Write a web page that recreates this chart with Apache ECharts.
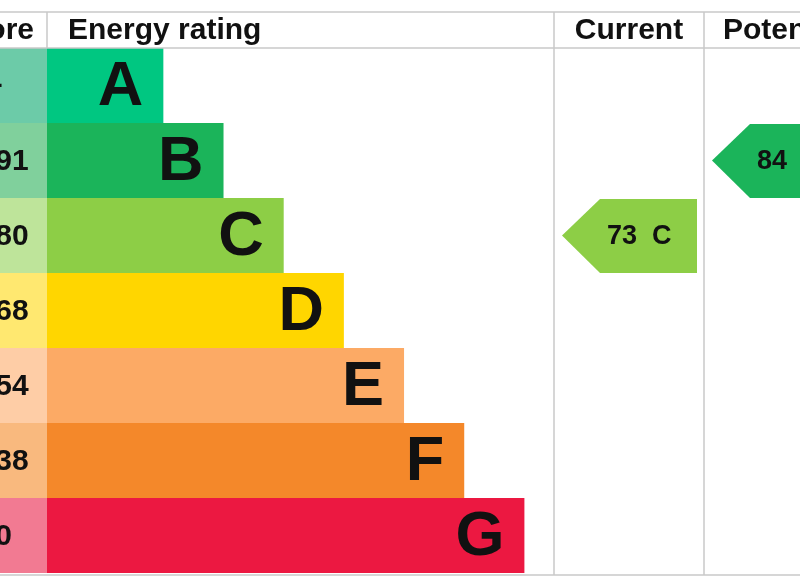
<!DOCTYPE html>
<html><head><meta charset="utf-8">
<script src="https://cdn.jsdelivr.net/npm/echarts@6/dist/echarts.min.js"></script>
<style>html,body{margin:0;padding:0;background:#fff}#c{width:800px;height:580px}</style>
</head><body><div id="c"></div>
<script>
// ---- data ----
const ratings = ['A', 'B', 'C', 'D', 'E', 'F', 'G'];
const scoreRanges = ['92+', '81-91', '69-80', '55-68', '39-54', '21-38', '1-20'];
const barLengths = [2, 3, 4, 5, 6, 7, 8];
const bandColors = ['#00c781', '#1bb45a', '#8dce46', '#ffd600', '#fcaa65', '#f4882a', '#ec1841'];
const scoreColors = ['#6ccba8', '#80d09c', '#bee49a', '#ffe870', '#fecda6', '#f9b97e', '#f27a92'];
const headers = ['Score', 'Energy rating', 'Current', 'Potential'];
const currentScore = 73, currentRating = 'C';
const potentialScore = 84, potentialRating = 'B';

// ---- layout (pixels) ----
const FONT = '"Liberation Sans", Arial, Helvetica, sans-serif';
const L = { scoreRight: 47, cols: [554, 704], colW: 150, top: 12, headBottom: 48, bottom: 575, line: '#c9c9c9' };

const chart = echarts.init(document.getElementById('c'));

const arrowData = [
  [currentScore, currentRating, 0],
  [potentialScore, potentialRating, 1]
];

const option = {
  animation: false,
  grid: { left: 43, right: 0, top: 48, bottom: 7 },
  xAxis: { type: 'value', min: 0, max: 12.58, show: false },
  yAxis: { type: 'category', data: ratings, inverse: true, show: false },
  graphic: [
    { type: 'line', shape: { x1: 0, y1: L.top, x2: 800, y2: L.top }, style: { stroke: L.line, lineWidth: 1.5 }, z: 10 },
    { type: 'line', shape: { x1: 0, y1: L.headBottom, x2: 800, y2: L.headBottom }, style: { stroke: L.line, lineWidth: 1.5 }, z: 10 },
    { type: 'line', shape: { x1: 0, y1: L.bottom, x2: 800, y2: L.bottom }, style: { stroke: L.line, lineWidth: 1.5 }, z: 10 },
    { type: 'line', shape: { x1: L.scoreRight, y1: L.top, x2: L.scoreRight, y2: L.headBottom }, style: { stroke: L.line, lineWidth: 1.5 }, z: 10 },
    { type: 'line', shape: { x1: L.cols[0], y1: L.top, x2: L.cols[0], y2: L.bottom }, style: { stroke: L.line, lineWidth: 1.5 }, z: 10 },
    { type: 'line', shape: { x1: L.cols[1], y1: L.top, x2: L.cols[1], y2: L.bottom }, style: { stroke: L.line, lineWidth: 1.5 }, z: 10 },
    { type: 'text', style: { text: headers[0], x: 34, y: 31, textAlign: 'right', textVerticalAlign: 'middle', font: 'bold 30px ' + FONT, fill: '#111' }, z: 10 },
    { type: 'text', style: { text: headers[1], x: 68, y: 31, textAlign: 'left', textVerticalAlign: 'middle', font: 'bold 30px ' + FONT, fill: '#111' }, z: 10 },
    { type: 'text', style: { text: headers[2], x: L.cols[0] + L.colW / 2, y: 31, textAlign: 'center', textVerticalAlign: 'middle', font: 'bold 30px ' + FONT, fill: '#111' }, z: 10 },
    { type: 'text', style: { text: headers[3], x: L.cols[1] + 19, y: 31, textAlign: 'left', textVerticalAlign: 'middle', font: 'bold 30px ' + FONT, fill: '#111' }, z: 10 }
  ],
  series: [
    {
      type: 'custom',
      data: ratings.map((r, i) => [barLengths[i], r]),
      renderItem: function (params, api) {
        const idx = params.dataIndex;
        const end = api.coord([api.value(0), api.value(1)]);
        const h = api.size([0, 1])[1];
        const y0 = end[1] - h / 2;
        return {
          type: 'group',
          children: [
            { type: 'rect', shape: { x: -150, y: y0, width: 150 + L.scoreRight, height: h }, style: { fill: scoreColors[idx] } },
            { type: 'rect', shape: { x: L.scoreRight, y: y0, width: end[0] - L.scoreRight, height: h }, style: { fill: bandColors[idx] } },
            { type: 'text', style: { text: scoreRanges[idx], x: -48, y: end[1] + 1, textAlign: 'left', textVerticalAlign: 'middle', font: 'bold 30px ' + FONT, fill: '#111' } },
            { type: 'text', style: { text: ratings[idx], x: end[0] - 20, y: end[1] + 2, textAlign: 'right', textVerticalAlign: 'middle', font: 'bold 63px ' + FONT, fill: '#111' } }
          ]
        };
      }
    },
    {
      type: 'custom',
      data: arrowData,
      renderItem: function (params, api) {
        const d = arrowData[params.dataIndex];
        const c = api.coord([0, api.value(1)]);
        const h = api.size([0, 1])[1];
        const cy = c[1];
        const y0 = cy - h / 2 + 1, y1 = cy + h / 2;
        const colLeft = L.cols[d[2]];
        const tip = colLeft + 8, right = colLeft + 143, shoulder = tip + 38;
        const color = bandColors[ratings.indexOf(d[1])];
        return {
          type: 'group',
          children: [
            { type: 'polygon', shape: { points: [[tip, cy], [shoulder, y0], [right, y0], [right, y1], [shoulder, y1]] }, style: { fill: color } },
            { type: 'text', style: { text: d[0] + '  ' + d[1], x: tip + 45, y: cy + 1, textAlign: 'left', textVerticalAlign: 'middle', font: 'bold 27px ' + FONT, fill: '#111' } }
          ]
        };
      }
    }
  ]
};
chart.setOption(option);
</script>
</body></html>
